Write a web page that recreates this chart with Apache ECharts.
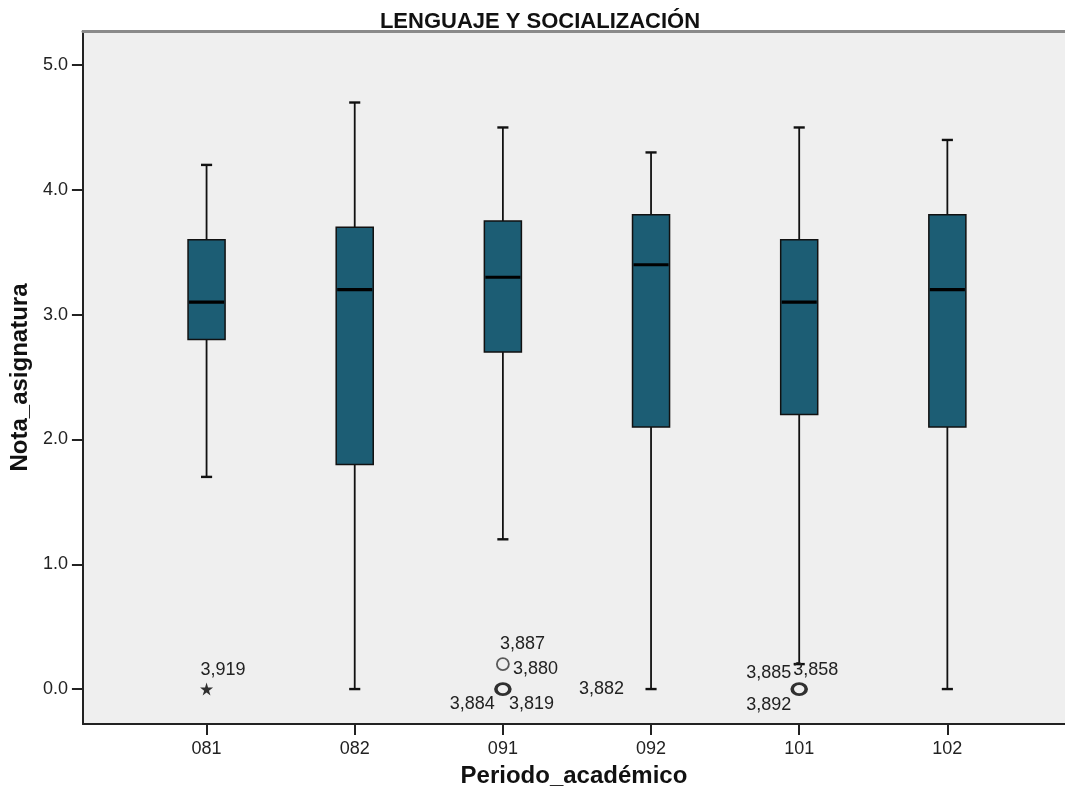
<!DOCTYPE html>
<html><head><meta charset="utf-8">
<script src="https://cdn.jsdelivr.net/npm/echarts@6/dist/echarts.min.js"></script>
<style>html,body{margin:0;padding:0;background:#fff}#c{width:1065px;height:795px}</style>
</head><body><div id="c"></div>
<script>
// ---- data ----
const categories = ['081', '082', '091', '092', '101', '102'];
const whiskerLow  = [1.7, 0.0, 1.2, 0.0, 0.2, 0.0];
const q1          = [2.8, 1.8, 2.7, 2.1, 2.2, 2.1];
const median      = [3.1, 3.2, 3.3, 3.4, 3.1, 3.2];
const q3          = [3.6, 3.7, 3.75, 3.8, 3.6, 3.8];
const whiskerHigh = [4.2, 4.7, 4.5, 4.3, 4.5, 4.4];
const yTicks = [0, 1, 2, 3, 4, 5];
// outlier markers
const outlierCat  = [0, 2, 2, 4];
const outlierVal  = [0.0, 0.2, 0.0, 0.0];
const outlierKind = ['extreme', 'single', 'multiple', 'multiple'];
// case-number labels
const caseCat = [0, 2, 2, 2, 2, 3, 4, 4, 4];
const caseVal = [0.0, 0.2, 0.2, 0.0, 0.0, 0.0, 0.0, 0.0, 0.0];
const caseId  = ['3,919', '3,887', '3,880', '3,884', '3,819', '3,882', '3,885', '3,858', '3,892'];

// ---- styles (label placement offsets, px) ----
const casePlace = [
  [-6, -19, 'left'], [-3, -20, 'left'], [10, 5, 'left'], [-8, 15, 'right'], [6, 15, 'left'],
  [-27, 0, 'right'], [-8, -16, 'right'], [-6, -19, 'left'], [-8, 16, 'right']
];
const BOX_FILL = '#1c5d74';
const STAR = 'path://M50,0 L61,35 L98,35 L68,57 L79,91 L50,70 L21,91 L32,57 L2,35 L39,35 Z';

const boxData = categories.map((c, i) => [i, whiskerLow[i], q1[i], median[i], q3[i], whiskerHigh[i]]);
const markerData = outlierCat.map((c, i) => {
  const k = outlierKind[i];
  if (k === 'extreme') {
    return {value: [c, outlierVal[i]], symbol: STAR, symbolSize: 13, itemStyle: {color: '#000', borderWidth: 0}};
  }
  return {
    value: [c, outlierVal[i]],
    symbol: 'circle',
    symbolSize: k === 'single' ? 12 : [14, 11],
    itemStyle: {color: 'rgba(0,0,0,0)', borderColor: k === 'single' ? '#333' : '#000', borderWidth: k === 'single' ? 1.8 : 3.2}
  };
});
const labelData = caseCat.map((c, i) => [c, caseVal[i], i]);

const FONT = '"Liberation Sans", Arial, sans-serif';
const X_MIN = -0.8345, X_MAX = 5.794;
const Y_MIN = -0.28, Y_MAX = 5.273;

const chart = echarts.init(document.getElementById('c'), null, {renderer: 'canvas'});
chart.setOption({
  animation: false,
  backgroundColor: '#ffffff',
  title: {
    text: 'LENGUAJE Y SOCIALIZACIÓN',
    left: 535, top: 6, textAlign: 'center',
    textStyle: {fontFamily: FONT, fontWeight: 'bold', fontSize: 22, color: '#111'}
  },
  grid: {left: 82, right: -2, top: 31, bottom: 71, show: true, backgroundColor: '#efefef', borderWidth: 0},
  xAxis: [{
    type: 'value', min: X_MIN, max: X_MAX, position: 'bottom',
    splitLine: {show: false},
    axisLine: {show: true, onZero: false, lineStyle: {color: '#222', width: 2}},
    axisTick: {show: true, length: 11, customValues: categories.map((c, i) => i), lineStyle: {color: '#222', width: 2}},
    axisLabel: {customValues: categories.map((c, i) => i), formatter: v => categories[Math.round(v)],
      fontFamily: FONT, fontSize: 18, color: '#222', margin: 16},
    name: 'Periodo_académico', nameLocation: 'middle', nameGap: 40,
    nameTextStyle: {fontFamily: FONT, fontWeight: 'bold', fontSize: 24, color: '#111'}
  }, {
    type: 'value', min: X_MIN, max: X_MAX, position: 'top',
    splitLine: {show: false}, axisTick: {show: false}, axisLabel: {show: false},
    axisLine: {show: true, onZero: false, lineStyle: {color: '#8a8a8a', width: 3}}
  }],
  yAxis: {
    type: 'value', min: Y_MIN, max: Y_MAX,
    splitLine: {show: false},
    axisLine: {show: true, onZero: false, lineStyle: {color: '#222', width: 2}},
    axisTick: {show: true, length: 11, customValues: yTicks, lineStyle: {color: '#222', width: 2}},
    axisLabel: {customValues: yTicks, formatter: v => v.toFixed(1),
      fontFamily: FONT, fontSize: 18, color: '#222', margin: 15},
    name: 'Nota_asignatura', nameLocation: 'middle', nameGap: 44,
    nameTextStyle: {fontFamily: FONT, fontWeight: 'bold', fontSize: 24, color: '#111'}
  },
  series: [{
    type: 'custom',
    data: boxData,
    encode: {x: 0, y: [1, 2, 3, 4, 5]},
    renderItem: function (params, api) {
      const x = api.value(0);
      const pLow = api.coord([x, api.value(1)]);
      const pQ1 = api.coord([x, api.value(2)]);
      const pMed = api.coord([x, api.value(3)]);
      const pQ3 = api.coord([x, api.value(4)]);
      const pHigh = api.coord([x, api.value(5)]);
      const bw = api.size([0.25, 0])[0];
      const cw = api.size([0.075, 0])[0];
      const cx = pMed[0];
      const lineS = {stroke: '#111', lineWidth: 1.8};
      return {
        type: 'group',
        children: [
          {type: 'line', shape: {x1: cx, y1: pQ3[1], x2: cx, y2: pHigh[1]}, style: lineS},
          {type: 'line', shape: {x1: cx, y1: pQ1[1], x2: cx, y2: pLow[1]}, style: lineS},
          {type: 'line', shape: {x1: cx - cw / 2, y1: pHigh[1], x2: cx + cw / 2, y2: pHigh[1]}, style: {stroke: '#111', lineWidth: 2.4}},
          {type: 'line', shape: {x1: cx - cw / 2, y1: pLow[1], x2: cx + cw / 2, y2: pLow[1]}, style: {stroke: '#111', lineWidth: 2.4}},
          {type: 'rect', shape: {x: cx - bw / 2, y: pQ3[1], width: bw, height: pQ1[1] - pQ3[1]},
            style: {fill: BOX_FILL, stroke: '#111', lineWidth: 1.5}},
          {type: 'line', shape: {x1: cx - bw / 2 + 1, y1: pMed[1], x2: cx + bw / 2 - 1, y2: pMed[1]}, style: {stroke: '#000', lineWidth: 3.2}}
        ]
      };
    },
    z: 2
  }, {
    type: 'scatter',
    data: markerData,
    z: 4
  }, {
    type: 'custom',
    data: labelData,
    encode: {x: 0, y: 1},
    renderItem: function (params, api) {
      const p = api.coord([api.value(0), api.value(1)]);
      const k = api.value(2);
      const pl = casePlace[k];
      return {
        type: 'text',
        x: p[0] + pl[0], y: p[1] + pl[1],
        style: {text: caseId[k], textAlign: pl[2], textVerticalAlign: 'middle',
          font: '18px ' + FONT, fill: '#222'}
      };
    },
    z: 5
  }]
});
</script>
</body></html>
